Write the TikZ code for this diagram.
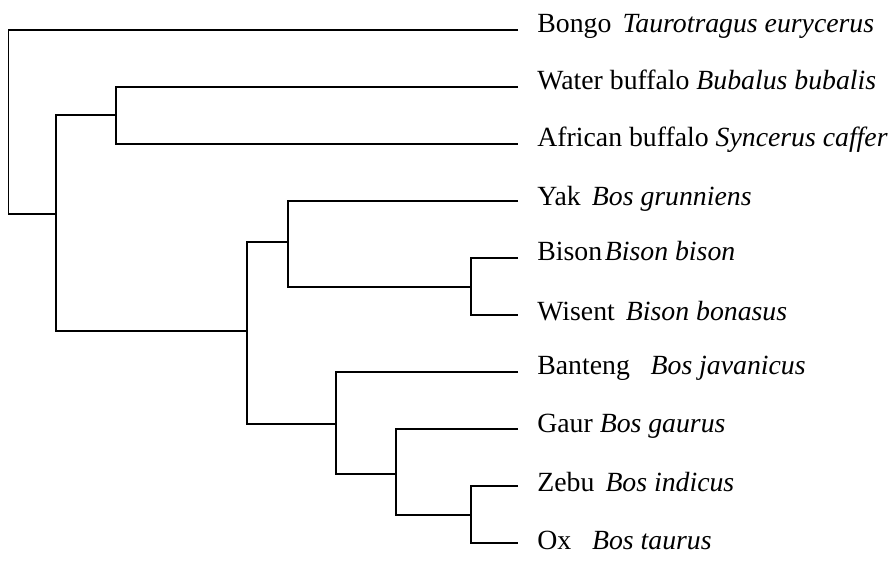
\documentclass[tikz,border=0pt]{standalone}
\usepackage{fontspec}
\setmainfont{Liberation Serif}

\begin{document}
\begin{tikzpicture}[x=0.02cm, y=-0.02cm]

\tikzset{
  ramo/.style={draw=black, line width=0.9pt},
  specie/.style={anchor=base west, inner sep=0pt, font=\fontsize{15.8}{19}\selectfont}
}

\useasboundingbox (0,0) rectangle (895,562);

% Estremi delle foglie
\def\xf{518}
\def\xt{537}
\coordinate (bongo)   at (\xf,30);
\coordinate (bufacq)  at (\xf,87);
\coordinate (bufafr)  at (\xf,144);
\coordinate (yak)     at (\xf,201);
\coordinate (bisonte) at (\xf,258);
\coordinate (wisent)  at (\xf,315);
\coordinate (banteng) at (\xf,372);
\coordinate (gaur)    at (\xf,429);
\coordinate (zebu)    at (\xf,486);
\coordinate (bue)     at (\xf,543);

% Nodi interni
\coordinate (radice) at (8.5,214);
\coordinate (nA) at (56,214);
\coordinate (nB) at (116,115);
\coordinate (nC) at (247,331);
\coordinate (nD) at (288,242);
\coordinate (nF) at (471,287);
\coordinate (nE) at (336,424);
\coordinate (nG) at (396,474);
\coordinate (nH) at (471,515);

% Rami
\draw[ramo] (bongo) -| (radice) -- (nA);
\draw[ramo] (nA) |- (nB);
\draw[ramo] (nA) |- (nC);
\draw[ramo] (bufacq) -| (nB) |- (bufafr);
\draw[ramo] (nC) |- (nD);
\draw[ramo] (nC) |- (nE);
\draw[ramo] (yak) -| (nD) |- (nF);
\draw[ramo] (bisonte) -| (nF) |- (wisent);
\draw[ramo] (banteng) -| (nE) |- (nG);
\draw[ramo] (gaur) -| (nG) |- (nH);
\draw[ramo] (zebu) -| (nH) |- (bue);

% Nomi delle specie
\node[specie] (tBongo)   at (\xt,32)  {Bongo\hspace{0.4em}\textit{Taurotragus eurycerus}};
\node[specie] (tBufAcq)  at (\xt,89)  {Water buffalo \textit{Bubalus bubalis}};
\node[specie] (tBufAfr)  at (\xt,146) {African buffalo \textit{Syncerus caffer}};
\node[specie] (tYak)     at (\xt,205) {Yak\hspace{0.4em}\textit{Bos grunniens}};
\node[specie] (tBisonte) at (\xt,260) {Bison\hspace{0.1em}\textit{Bison bison}};
\node[specie] (tWisent)  at (\xt,320) {Wisent\hspace{0.4em}\textit{Bison bonasus}};
\node[specie] (tBanteng) at (\xt,374) {Banteng\hspace{0.75em}\textit{Bos javanicus}};
\node[specie] (tGaur)    at (\xt,432) {Gaur \textit{Bos gaurus}};
\node[specie] (tZebu)    at (\xt,491) {Zebu\hspace{0.4em}\textit{Bos indicus}};
\node[specie] (tBue)     at (\xt,549) {Ox\hspace{0.75em}\textit{Bos taurus}};

\end{tikzpicture}
\end{document}
